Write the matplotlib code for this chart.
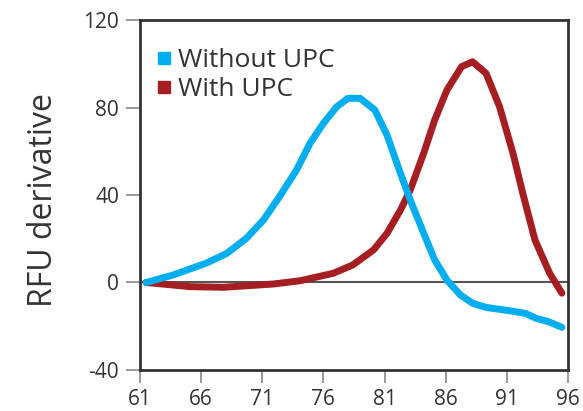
import matplotlib
matplotlib.use("Agg")
from matplotlib import pyplot as plt
from matplotlib.lines import Line2D

plt.rcParams['font.family'] = ['Open Sans', 'DejaVu Sans']
plt.rcParams['axes.unicode_minus'] = False

# melt curve derivative, temperature in degrees C
temp_without = [61.5, 63.7, 66.4, 68.1, 69.7, 71.1, 72.4, 73.8, 74.9, 76.0,
                77.1, 78.0, 79.0, 80.2, 81.2, 82.3, 83.1, 84.2, 85.1, 86.1, 87.2,
                88.2, 89.3, 91.2, 92.5, 93.4, 94.4, 95.5]
rfu_without = [0.0, 3.4, 8.8, 13.3, 20.2, 28.6, 39.2, 51.4, 63.6, 72.8,
               80.4, 84.2, 84.2, 78.9, 67.4, 49.9, 37.7, 22.5, 10.3, 1.1, -5.7,
               -9.5, -11.4, -12.9, -14.1, -16.4, -17.9, -20.5]

temp_with = [61.5, 65.1, 67.8, 71.9, 74.1, 76.8, 78.4, 80.1, 81.2,
             82.3, 83.1, 84.2, 85.1, 86.1, 87.3, 88.2, 89.3, 90.4, 91.5, 92.3,
             93.3, 94.5, 95.5]
rfu_with = [0.0, -1.9, -2.2, -0.7, 0.8, 4.2, 8.0, 14.9, 22.5,
            33.1, 42.3, 59.1, 74.3, 88.0, 98.7, 100.9, 95.6, 80.4, 59.1, 40.8,
            19.4, 4.2, -4.9]

x_ticks = [61, 66, 71, 76, 81, 86, 91, 96]
y_ticks = [-40, 0, 40, 80, 120]

blue = '#00aeef'
red = '#a51e22'
text_col = '#333333'

fig = plt.figure(figsize=(5.83, 4.11), dpi=100)
ax = fig.add_axes([0.2401, 0.0998, 0.7342, 0.8515])

ax.axhline(0, color='#555555', lw=1.5, zorder=1)
ax.plot(temp_without, rfu_without, color=blue, lw=5, solid_capstyle='round', zorder=3)
ax.plot(temp_with, rfu_with, color=red, lw=5, solid_capstyle='round', zorder=2)

ax.set_xlim(61, 96)
ax.set_ylim(-40, 120)
ax.set_xticks(x_ticks)
ax.set_yticks(y_ticks)
ax.tick_params(axis='both', colors='#888888', labelcolor=text_col, labelsize=15, width=1.2)
ax.tick_params(axis='y', length=10, pad=5)
ax.tick_params(axis='x', length=9, pad=4.5)
for s in ax.spines.values():
    s.set_color('#333333')
    s.set_linewidth(2)

ax.set_ylabel('RFU derivative', fontsize=23, color=text_col)
ax.yaxis.set_label_coords(-0.187, 0.486)

handles = [Line2D([], [], marker='s', ls='none', color=blue, markersize=9),
           Line2D([], [], marker='s', ls='none', color=red, markersize=9)]
ax.legend(handles, ['Without UPC', 'With UPC'], loc='upper left',
          bbox_to_anchor=(0.0334, 0.92), frameon=False, fontsize=19,
          borderpad=0, borderaxespad=0,
          handletextpad=0.2, handlelength=0.7, labelspacing=0.15,
          labelcolor=text_col)

fig.savefig('out.png', dpi=100)
